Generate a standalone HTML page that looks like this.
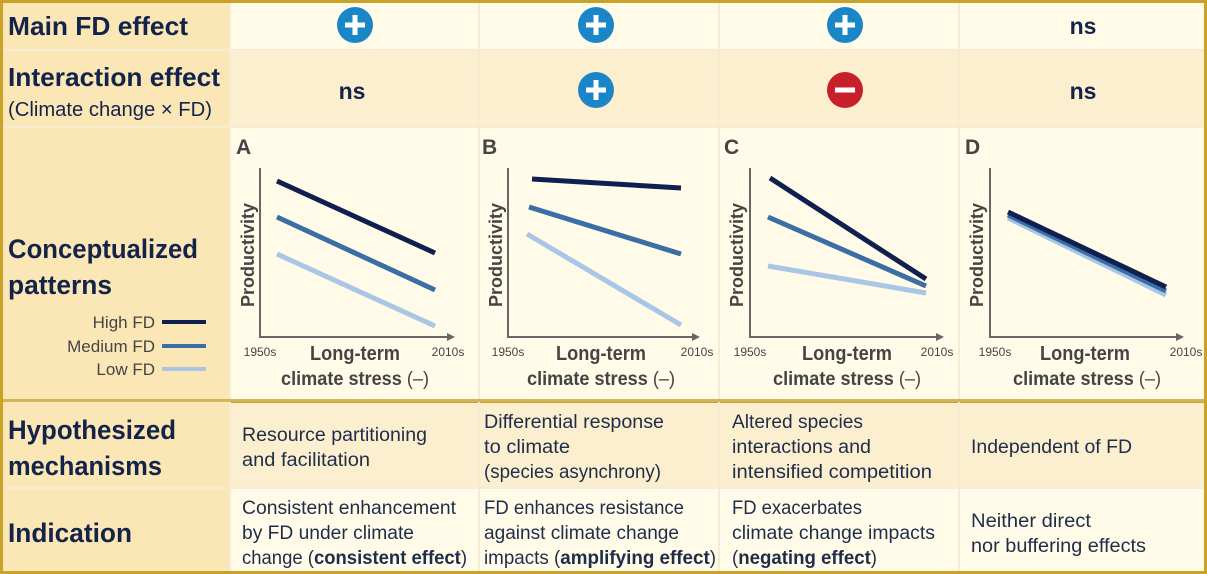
<!DOCTYPE html>
<html><head><meta charset="utf-8"><style>
html,body{margin:0;padding:0;background:#fff}
svg{display:block}
text{font-family:"Liberation Sans",sans-serif}
</style></head><body>
<svg width="1207" height="574" viewBox="0 0 1207 574" xmlns="http://www.w3.org/2000/svg">
<defs>
<marker id="ar" markerWidth="8" markerHeight="8" refX="6" refY="4" orient="auto" markerUnits="userSpaceOnUse"><path d="M0,0 L8,4 L0,8 z" fill="#666"/></marker>
</defs>
<rect x="0" y="0" width="1207" height="574" fill="#c9a227"/>
<rect x="3" y="3" width="227" height="568" fill="#fbe6b6"/>
<rect x="231" y="3" width="973" height="46" fill="#fffbe8"/>
<rect x="231" y="51" width="973" height="75" fill="#fcefcf"/>
<rect x="231" y="128" width="973" height="271" fill="#fffbe8"/>
<rect x="231" y="403" width="973" height="84" fill="#fcefcf"/>
<rect x="231" y="489" width="973" height="82" fill="#fffbe8"/>
<g stroke="#f6ecd4" stroke-width="2">
<line x1="3" y1="50" x2="1204" y2="50"/>
<line x1="3" y1="127" x2="1204" y2="127"/>
<line x1="3" y1="488" x2="1204" y2="488"/>
<line x1="230" y1="3" x2="230" y2="571"/>
<line x1="479" y1="3" x2="479" y2="571"/>
<line x1="719" y1="3" x2="719" y2="571"/>
<line x1="959" y1="3" x2="959" y2="571"/>
</g>
<rect x="3" y="399" width="1201" height="3" fill="#d2b45a"/>

<g fill="#13234a" font-weight="bold" lengthAdjust="spacingAndGlyphs">
<text x="8" y="35" font-size="26" textLength="180" lengthAdjust="spacingAndGlyphs">Main FD effect</text>
<text x="8" y="86" font-size="26" textLength="212" lengthAdjust="spacingAndGlyphs">Interaction effect</text>
<text x="8" y="258" font-size="27" textLength="190" lengthAdjust="spacingAndGlyphs">Conceptualized</text>
<text x="8" y="294" font-size="27" textLength="104" lengthAdjust="spacingAndGlyphs">patterns</text>
<text x="8" y="439" font-size="27" textLength="168" lengthAdjust="spacingAndGlyphs">Hypothesized</text>
<text x="8" y="475" font-size="27" textLength="154" lengthAdjust="spacingAndGlyphs">mechanisms</text>
<text x="8" y="542" font-size="27" textLength="124" lengthAdjust="spacingAndGlyphs">Indication</text>
</g>
<text x="8" y="116" font-size="20" fill="#13234a" textLength="204" lengthAdjust="spacingAndGlyphs">(Climate change × FD)</text>

<g font-size="17" fill="#444" text-anchor="end">
<text x="155" y="328">High FD</text>
<text x="155" y="352">Medium FD</text>
<text x="155" y="375">Low FD</text>
</g>
<g stroke-width="4">
<line x1="162" y1="322" x2="206" y2="322" stroke="#0f1f4f"/>
<line x1="162" y1="346" x2="206" y2="346" stroke="#3a6ea5"/>
<line x1="162" y1="369" x2="206" y2="369" stroke="#a9c6e6"/>
</g>

<g>
<circle cx="355" cy="25" r="18" fill="#1a86c8"/><path d="M355,15v20M345,25h20" stroke="#fff" stroke-width="5"/>
<circle cx="596" cy="25" r="18" fill="#1a86c8"/><path d="M596,15v20M586,25h20" stroke="#fff" stroke-width="5"/>
<circle cx="845" cy="25" r="18" fill="#1a86c8"/><path d="M845,15v20M835,25h20" stroke="#fff" stroke-width="5"/>
<circle cx="596" cy="90" r="18" fill="#1a86c8"/><path d="M596,80v20M586,90h20" stroke="#fff" stroke-width="5"/>
<circle cx="845" cy="90" r="18" fill="#c8202a"/><path d="M835,90h20" stroke="#fff" stroke-width="5"/>
</g>
<g font-size="23" font-weight="bold" fill="#13234a" text-anchor="middle">
<text x="1083" y="34">ns</text>
<text x="352" y="99">ns</text>
<text x="1083" y="99">ns</text>
</g>

<g font-weight="bold" font-size="21" fill="#444">
<text x="236" y="154">A</text><text x="482" y="154">B</text><text x="724" y="154">C</text><text x="965" y="154">D</text>
</g>
<g stroke="#666" stroke-width="2" fill="none">
<path d="M260,168 V337 H453" marker-end="url(#ar)"/>
<path d="M508,168 V337 H698" marker-end="url(#ar)"/>
<path d="M750,168 V337 H942" marker-end="url(#ar)"/>
<path d="M990,168 V337 H1182" marker-end="url(#ar)"/>
</g>
<g stroke-width="5">
<line x1="277" y1="181" x2="435" y2="253" stroke="#0f1f4f"/>
<line x1="277" y1="217" x2="435" y2="290" stroke="#3a6ea5"/>
<line x1="277" y1="254" x2="435" y2="326" stroke="#a9c6e6"/>
<line x1="532" y1="179" x2="681" y2="188" stroke="#0f1f4f"/>
<line x1="529" y1="207" x2="681" y2="254" stroke="#3a6ea5"/>
<line x1="527" y1="234" x2="681" y2="325" stroke="#a9c6e6"/>
<line x1="770" y1="178" x2="926" y2="279" stroke="#0f1f4f"/>
<line x1="768" y1="217" x2="926" y2="286" stroke="#3a6ea5"/>
<line x1="768" y1="266" x2="926" y2="293" stroke="#a9c6e6"/>
<line x1="1008" y1="218" x2="1166" y2="295" stroke="#a9c6e6"/>
<line x1="1008" y1="215" x2="1166" y2="291" stroke="#3a6ea5"/>
<line x1="1008" y1="212" x2="1166" y2="287" stroke="#0f1f4f"/>
</g>
<g font-size="18" font-weight="bold" fill="#444" text-anchor="middle">
<text transform="translate(254,255) rotate(-90)" textLength="104" lengthAdjust="spacingAndGlyphs">Productivity</text>
<text transform="translate(502,255) rotate(-90)" textLength="104" lengthAdjust="spacingAndGlyphs">Productivity</text>
<text transform="translate(743,255) rotate(-90)" textLength="104" lengthAdjust="spacingAndGlyphs">Productivity</text>
<text transform="translate(983,255) rotate(-90)" textLength="104" lengthAdjust="spacingAndGlyphs">Productivity</text>
</g>
<g font-size="12" fill="#444" text-anchor="middle">
<text x="260" y="356">1950s</text><text x="448" y="356">2010s</text>
<text x="508" y="356">1950s</text><text x="697" y="356">2010s</text>
<text x="750" y="356">1950s</text><text x="937" y="356">2010s</text>
<text x="995" y="356">1950s</text><text x="1186" y="356">2010s</text>
</g>
<g font-size="20" font-weight="bold" fill="#444" text-anchor="middle">
<text x="355" y="360" textLength="90" lengthAdjust="spacingAndGlyphs">Long-term</text>
<text x="601" y="360" textLength="90" lengthAdjust="spacingAndGlyphs">Long-term</text>
<text x="847" y="360" textLength="90" lengthAdjust="spacingAndGlyphs">Long-term</text>
<text x="1085" y="360" textLength="90" lengthAdjust="spacingAndGlyphs">Long-term</text>
</g>
<g font-size="19" fill="#444" text-anchor="middle">
<text x="355" y="385" textLength="148" lengthAdjust="spacingAndGlyphs"><tspan font-weight="bold">climate stress</tspan> (–)</text>
<text x="601" y="385" textLength="148" lengthAdjust="spacingAndGlyphs"><tspan font-weight="bold">climate stress</tspan> (–)</text>
<text x="847" y="385" textLength="148" lengthAdjust="spacingAndGlyphs"><tspan font-weight="bold">climate stress</tspan> (–)</text>
<text x="1087" y="385" textLength="148" lengthAdjust="spacingAndGlyphs"><tspan font-weight="bold">climate stress</tspan> (–)</text>
</g>

<g font-size="19" fill="#1e2d4a">
<text x="242" y="441" textLength="185" lengthAdjust="spacingAndGlyphs">Resource partitioning</text>
<text x="242" y="466" textLength="128" lengthAdjust="spacingAndGlyphs">and facilitation</text>
<text x="484" y="428" textLength="180" lengthAdjust="spacingAndGlyphs">Differential response</text>
<text x="484" y="453" textLength="86" lengthAdjust="spacingAndGlyphs">to climate</text>
<text x="484" y="478" textLength="177" lengthAdjust="spacingAndGlyphs">(species asynchrony)</text>
<text x="732" y="428" textLength="131" lengthAdjust="spacingAndGlyphs">Altered species</text>
<text x="732" y="453" textLength="139" lengthAdjust="spacingAndGlyphs">interactions and</text>
<text x="732" y="478" textLength="200" lengthAdjust="spacingAndGlyphs">intensified competition</text>
<text x="971" y="453" textLength="161" lengthAdjust="spacingAndGlyphs">Independent of FD</text>
<text x="242" y="514" textLength="214" lengthAdjust="spacingAndGlyphs">Consistent enhancement</text>
<text x="242" y="539" textLength="172" lengthAdjust="spacingAndGlyphs">by FD under climate</text>
<text x="242" y="564" textLength="225" lengthAdjust="spacingAndGlyphs">change (<tspan font-weight="bold">consistent effect</tspan>)</text>
<text x="484" y="514" textLength="200" lengthAdjust="spacingAndGlyphs">FD enhances resistance</text>
<text x="484" y="539" textLength="195" lengthAdjust="spacingAndGlyphs">against climate change</text>
<text x="484" y="564" textLength="232" lengthAdjust="spacingAndGlyphs">impacts (<tspan font-weight="bold">amplifying effect</tspan>)</text>
<text x="732" y="514" textLength="130" lengthAdjust="spacingAndGlyphs">FD exacerbates</text>
<text x="732" y="539" textLength="203" lengthAdjust="spacingAndGlyphs">climate change impacts</text>
<text x="732" y="564" textLength="145" lengthAdjust="spacingAndGlyphs">(<tspan font-weight="bold">negating effect</tspan>)</text>
<text x="971" y="527" textLength="120" lengthAdjust="spacingAndGlyphs">Neither direct</text>
<text x="971" y="552" textLength="175" lengthAdjust="spacingAndGlyphs">nor buffering effects</text>
</g>
</svg>
</body></html>
